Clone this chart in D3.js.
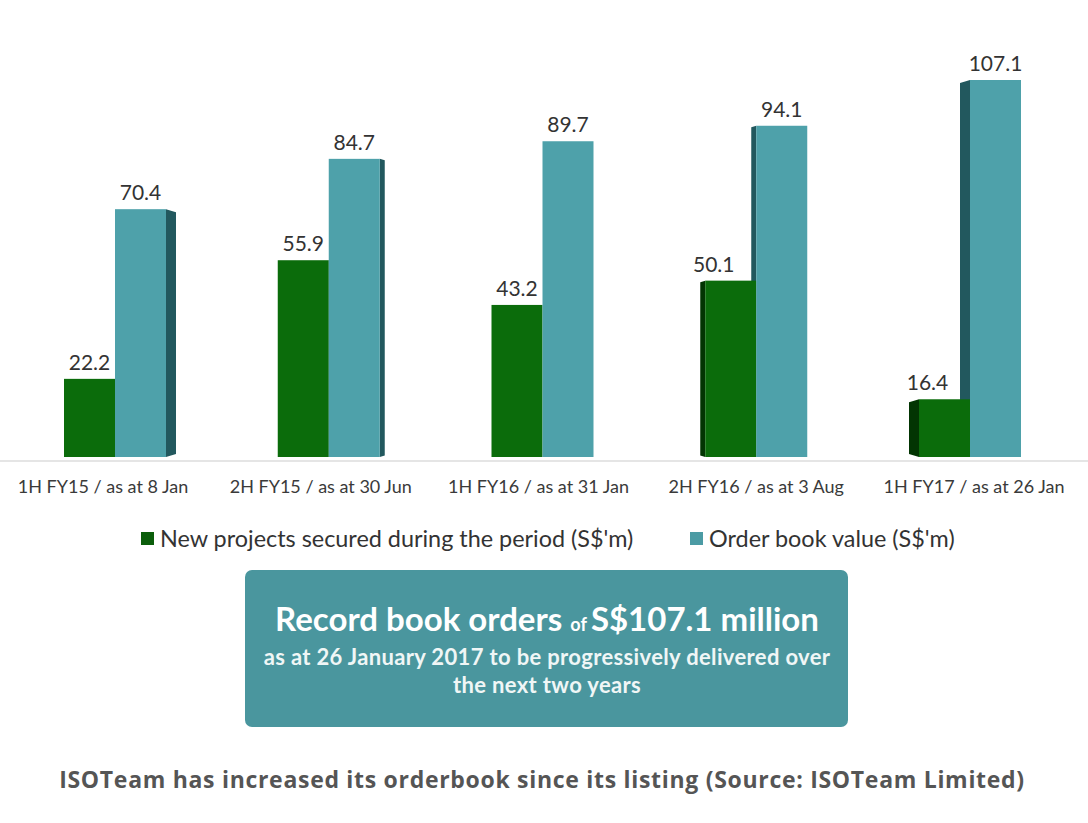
<!DOCTYPE html>
<html><head><meta charset="utf-8">
<script src="https://cdn.jsdelivr.net/npm/d3@7"></script>
<style>body{margin:0;background:#fff;}svg{display:block;}</style>
</head><body>
<svg id="c" width="1088" height="823"></svg>
<script>
const categories = ["1H FY15 / as at 8 Jan","2H FY15 / as at 30 Jun","1H FY16 / as at 31 Jan","2H FY16 / as at 3 Aug","1H FY17 / as at 26 Jan"];
const seriesNames = ["New projects secured during the period (S$'m)","Order book value (S$'m)"];
const newProjects = [22.2, 55.9, 43.2, 50.1, 16.4];
const orderBook = [70.4, 84.7, 89.7, 94.1, 107.1];
const frontColors = ["#0b6c0b", "#4ea1aa"];
const sideColors = ["#023502", "#22585e"];
const legendColors = ["#0b5e0b", "#4b9ba4"];

const svg = d3.select("#c");
const x0 = d3.scalePoint().domain(categories).range([115, 970]);
const x1 = d3.scaleBand().domain(seriesNames).range([-51, 51]);
const y = d3.scaleLinear().domain([0, 107.1]).range([457, 80]);
const depth = d3.scaleLinear().domain([115, 970]).range([10, -10]);

const data = [];
categories.forEach((c, i) => {
  [newProjects[i], orderBook[i]].forEach((v, s) => {
    data.push({cat: c, s, v});
  });
});

svg.append("line").attr("x1", 0).attr("x2", 1088).attr("y1", 461).attr("y2", 461)
  .attr("stroke", "#dcdcdc").attr("stroke-width", 1.5);

const g = svg.append("g");
g.selectAll("path.side").data(data).join("path").attr("class", "side")
  .attr("fill", d => sideColors[d.s])
  .attr("d", d => {
    const cx = x0(d.cat);
    const dp = depth(cx);
    const xl = cx + x1(seriesNames[d.s]);
    const w = x1.bandwidth();
    const top = y(d.v), bot = y(0);
    const ex = dp >= 0 ? xl + w : xl;
    const ox = ex + dp;
    const sl = Math.abs(dp) * 0.3;
    return `M${ex},${top}L${ox},${top + sl}L${ox},${bot - sl}L${ex},${bot}Z`;
  });
g.selectAll("rect.front").data(data).join("rect").attr("class", "front")
  .attr("x", d => x0(d.cat) + x1(seriesNames[d.s]))
  .attr("y", d => y(d.v))
  .attr("width", x1.bandwidth())
  .attr("height", d => y(0) - y(d.v))
  .attr("fill", d => frontColors[d.s]);
g.selectAll("text.val").data(data).join("text").attr("class", "val")
  .attr("x", d => {
    const cx = x0(d.cat);
    const shift = (d.s === 0 && depth(cx) < -1) ? -17 : 0;
    return cx + x1(seriesNames[d.s]) + x1.bandwidth() / 2 + shift;
  })
  .attr("y", d => y(d.v) - 9)
  .attr("text-anchor", "middle")
  .attr("font-family", "Lato, sans-serif").attr("font-size", 21)
  .attr("fill", "#333").text(d => d.v.toFixed(1));

svg.append("g").selectAll("text").data(categories).join("text")
  .attr("x", d => x0(d) - depth(x0(d)) * 0.8 - 4)
  .attr("y", 493)
  .attr("text-anchor", "middle")
  .attr("font-family", "Lato, sans-serif").attr("font-size", 18)
  .attr("fill", "#3a3a3a").text(d => d);

const legX = [141, 690];
const leg = svg.append("g").selectAll("g").data(seriesNames).join("g")
  .attr("transform", (d, i) => `translate(${legX[i]},539)`);
leg.append("rect").attr("x", 0).attr("y", -7).attr("width", 13).attr("height", 13)
  .attr("fill", (d, i) => legendColors[i]);
leg.append("text").attr("x", 19).attr("y", 7.5)
  .attr("font-family", "Lato, sans-serif").attr("font-size", 23.4)
  .attr("fill", "#333").text(d => d);

svg.append("rect").attr("x", 245).attr("y", 570).attr("width", 603).attr("height", 157)
  .attr("rx", 7).attr("fill", "#4a969e");
const t1 = svg.append("text").attr("x", 547).attr("y", 631).attr("text-anchor", "middle")
  .attr("font-family", "Lato, sans-serif").attr("font-weight", "bold").attr("fill", "#fff");
t1.append("tspan").attr("font-size", 33).text("Record book orders ");
t1.append("tspan").attr("font-size", 18).text("of ");
t1.append("tspan").attr("font-size", 33).text("S$107.1 million");
svg.append("text").attr("x", 547).attr("y", 665).attr("text-anchor", "middle")
  .attr("font-family", "Lato, sans-serif").attr("font-weight", "bold").attr("font-size", 22)
  .attr("letter-spacing", 0.35)
  .attr("fill", "#f0f6f6").text("as at 26 January 2017 to be progressively delivered over");
svg.append("text").attr("x", 547).attr("y", 693).attr("text-anchor", "middle")
  .attr("font-family", "Lato, sans-serif").attr("font-weight", "bold").attr("font-size", 22)
  .attr("letter-spacing", 0.35)
  .attr("fill", "#f0f6f6").text("the next two years");

svg.append("text").attr("x", 542).attr("y", 788).attr("text-anchor", "middle")
  .attr("font-family", "'Open Sans', sans-serif").attr("font-weight", "bold").attr("font-size", 23)
  .attr("letter-spacing", 0.7)
  .attr("fill", "#555").text("ISOTeam has increased its orderbook since its listing (Source: ISOTeam Limited)");
</script>
</body></html>
